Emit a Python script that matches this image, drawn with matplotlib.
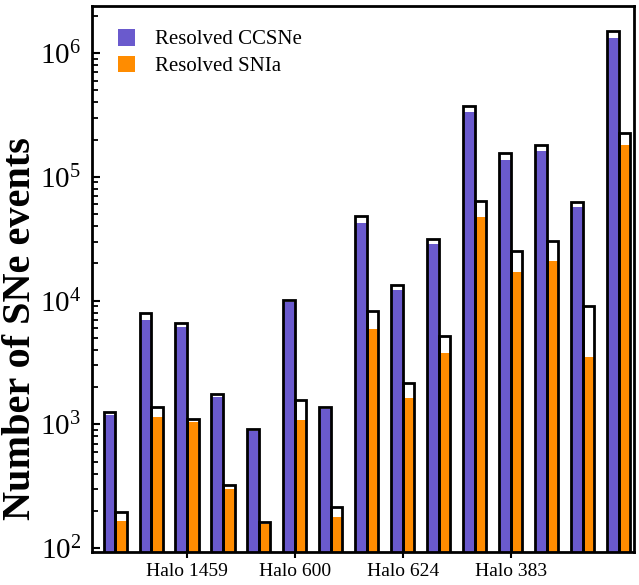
import numpy as np
import matplotlib
matplotlib.use('Agg')
import matplotlib.pyplot as plt

plt.rcParams['font.family'] = ['Liberation Serif', 'DejaVu Serif']
plt.rcParams['mathtext.fontset'] = 'stix'

# Total / resolved SNe counts per simulation (15 runs)
cc_total = [1270, 7900, 6600, 1770, 910, 10200, 1370, 48000, 13400, 31300,
            376000, 156000, 181000, 63000, 1.52e6]
cc_resolved = [1200, 7000, 6100, 1650, 880, 9800, 1320, 42600, 12200, 28600,
               334000, 138000, 163000, 57500, 1.32e6]
ia_total = [194, 1370, 1100, 325, 164, 1560, 213, 8200, 2170, 5170,
            64000, 25100, 30200, 9100, 224000]
ia_resolved = [167, 1140, 1040, 300, 158, 1080, 180, 5900, 1640, 3800,
               47000, 17100, 20900, 3500, 180000]

tick_pos = [2, 5, 8, 11]
tick_labels = ['Halo 1459', 'Halo 600', 'Halo 624', 'Halo 383']

x = np.arange(len(cc_total))
w = 0.32

fig = plt.figure(figsize=(6.39, 5.85), dpi=100)
ax = fig.add_axes([0.144, 0.0564, 0.848, 0.9333])

ax.bar(x - w/2, cc_resolved, width=w, color='#6A5ACD', zorder=2, label='Resolved CCSNe')
ax.bar(x + w/2, ia_resolved, width=w, color='#FF8C00', zorder=2, label='Resolved SNIa')
ax.bar(x - w/2, cc_total, width=w, facecolor='none', edgecolor='black', linewidth=2, zorder=3)
ax.bar(x + w/2, ia_total, width=w, facecolor='none', edgecolor='black', linewidth=2, zorder=3)

ax.set_yscale('log')
ax.set_ylim(93, 2.4e6)
ax.set_xlim(-0.64, 14.42)

ax.set_xticks(tick_pos)
ax.set_xticklabels(tick_labels, fontsize=14)
ax.tick_params(axis='x', direction='out', length=4, width=1.5, pad=4)
ax.tick_params(axis='y', which='major', direction='in', length=5.5, width=1.5, labelsize=21, pad=8)
ax.tick_params(axis='y', which='minor', direction='in', length=4.5, width=1.3)

ax.set_ylabel('Number of SNe events', fontsize=29, fontweight='bold')
ax.yaxis.set_label_coords(-0.097, 0.41)

for s in ax.spines.values():
    s.set_linewidth(2)

ax.legend(loc='upper left', frameon=False, fontsize=15, handlelength=0.85, handleheight=0.85,
          handletextpad=0.95, labelspacing=0.3, borderaxespad=0.7, bbox_to_anchor=(0.005, 1.0))

fig.savefig('out.png', dpi=100)
